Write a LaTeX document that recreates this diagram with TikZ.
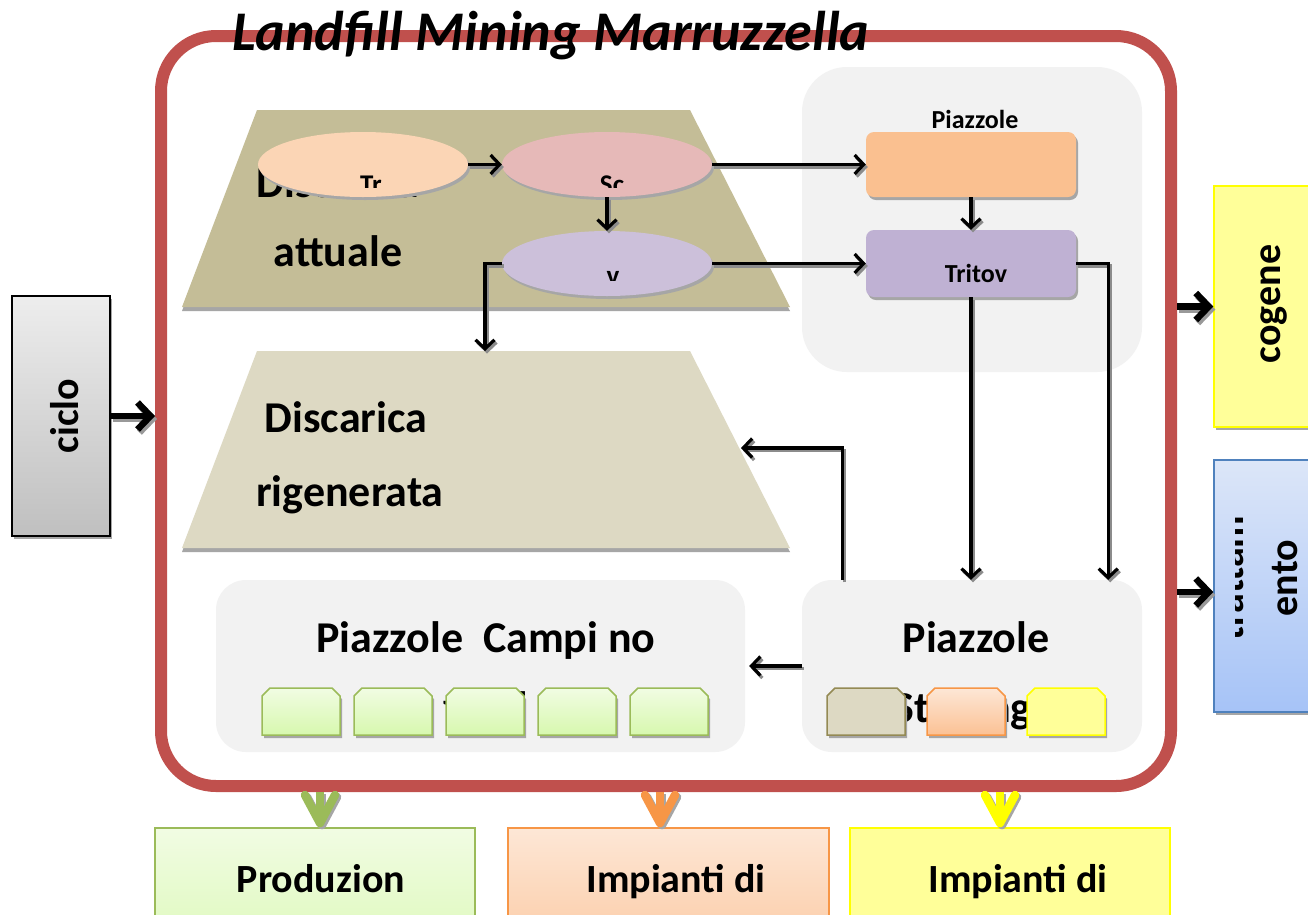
\documentclass[tikz,border=0pt]{standalone}
\usepackage{fontspec}
\setmainfont{Carlito}
\usetikzlibrary{arrows.meta,shapes.geometric,calc}
\definecolor{redframe}{HTML}{C0504D}
\definecolor{panelg}{HTML}{F2F2F2}
\definecolor{trapA}{HTML}{C4BD97}
\definecolor{trapB}{HTML}{DDD9C3}
\definecolor{ellTr}{HTML}{FBD5B5}
\definecolor{ellSc}{HTML}{E6B9B8}
\definecolor{ellV}{HTML}{CCC0DA}
\definecolor{oboxc}{HTML}{FAC090}
\definecolor{tritc}{HTML}{BFB1D3}
\definecolor{greenb}{HTML}{9BBB59}
\definecolor{greenT}{HTML}{F1FCE3}
\definecolor{greenB}{HTML}{D7F8AE}
\definecolor{orangeb}{HTML}{F79646}
\definecolor{orangeT}{HTML}{FDE7D6}
\definecolor{orangeB}{HTML}{FBC194}
\definecolor{yellowf}{HTML}{FFFF99}
\definecolor{yellowb}{HTML}{FFFF00}
\definecolor{khakib}{HTML}{948A54}
\definecolor{blueb}{HTML}{4F81BD}
\definecolor{blueT}{HTML}{DCE6F8}
\definecolor{blueB}{HTML}{A6C3F7}
\newcommand\snipbox[3]{\draw[#3] (#1,#2+47) -- (#1,#2+8) -- (#1+8,#2) -- (#1+70,#2) -- (#1+78,#2+8) -- (#1+78,#2+47) -- cycle;}
\begin{document}
\begin{tikzpicture}[x=1pt,y=-1pt,
  dropsh/.style={preaction={fill=black!35, transform canvas={shift={(2pt,-3pt)}}}},
  trapsh/.style={preaction={fill=black!35, transform canvas={shift={(0pt,-4pt)}}}},
  panel/.style={fill=panelg, inner sep=0},
  ell/.style={ellipse, inner sep=0, minimum width=210pt, minimum height=65pt, dropsh},
  rbox/.style={rounded corners=8pt, inner sep=0, minimum width=210pt, dropsh},
  arr/.style={line width=3.2pt, -{Straight Barb[length=9pt,width=19pt]},
    preaction={draw=black!45, line width=3.2pt, transform canvas={shift={(2pt,-2.5pt)}}}},
  bigarr/.style={line width=6.5pt, -{Straight Barb[length=13pt,width=27pt]},
    preaction={draw=black!40, line width=6.5pt, transform canvas={shift={(2pt,-3pt)}}}},
  carr/.style={draw=#1, line width=8.5pt, -{Straight Barb[length=28pt,width=30pt,round]},
    preaction={draw=black!35, line width=8.5pt, transform canvas={shift={(2pt,-2pt)}}}},
  big/.style={font=\bfseries\fontsize{44}{50}\selectfont, inner sep=0},
  mid/.style={font=\bfseries\fontsize{40}{46}\selectfont, inner sep=0},
  small/.style={font=\bfseries\fontsize{27}{30}\selectfont, inner sep=0},
  med/.style={font=\bfseries\fontsize{26}{30}\selectfont, inner sep=0}
]
\useasboundingbox (0,0) rectangle (1308,914);
\fill[white] (0,0) rectangle (1308,914);

% outer frame
\node[draw=redframe, line width=12pt, rounded corners=55pt, minimum width=1010pt, minimum height=750pt, inner sep=0] (frame) at (666,411) {};

% grey panels
\node[panel, rounded corners=45pt, minimum width=340pt, minimum height=305pt] (tpanel) at (972,219.5) {};
\node[panel, rounded corners=30pt, minimum width=529pt, minimum height=172pt] (campi) at (480.5,666) {};
\node[panel, rounded corners=30pt, minimum width=340pt, minimum height=172pt] (sto) at (972,666) {};

% trapezoids
\fill[trapA, trapsh] (257,110) -- (690,110) -- (790,307) -- (182,307) -- cycle;
\fill[trapB, trapsh] (257,351) -- (690,351) -- (790,548) -- (182,548) -- cycle;
\coordinate (t2top) at (485,351);
\coordinate (t2right) at (741,448);
\node[big, anchor=base] (da1) at (338,197) {Discarica};
\node[big, anchor=base] (da2) at (338,266) {attuale};
\node[big, anchor=base] (dr1) at (346,432) {Discarica};
\node[big, anchor=base] (dr2) at (350,506) {rigenerata};

% ellipses
\node[ell, fill=ellTr] (tr) at (363,164.5) {};
\node[ell, fill=ellSc] (sc) at (607,164.5) {};
\node[ell, fill=ellV] (v) at (607,263.5) {};
\begin{scope}
\clip (320,150) rectangle (420,187);
\node[small, anchor=base] (trt) at (371,193) {Tr};
\end{scope}
\begin{scope}
\clip (560,150) rectangle (660,187);
\node[small, anchor=base] (sct) at (612,193) {Sc};
\end{scope}
\begin{scope}
\clip (570,250) rectangle (660,280);
\node[small, anchor=base] (vt) at (613,284) {v};
\end{scope}

% right top boxes
\node[med, anchor=base] (pz1) at (975,128) {Piazzole};
\node[rbox, fill=oboxc, minimum height=65pt] (obox) at (971,164.5) {};
\node[rbox, fill=tritc, minimum height=67pt] (trit) at (971,263.5) {};
\node[med, anchor=base] (tritt) at (976,282) {Tritov};

% lower panel texts
\node[big, anchor=base] (cp1) at (486,652) {Piazzole\ \ Campi no};
\node[big, anchor=base] (cp2) at (486,722) {food};
\node[big, anchor=base] (sp1) at (976,652) {Piazzole};
\node[big, anchor=base west] (sp2) at (893,722) {Stoccaggio};

% small boxes
\foreach \xx in {262,354,446,538,630}{
  \snipbox{\xx}{688}{draw=greenb, line width=1.5pt, top color=greenT, bottom color=greenB, dropsh}
}
\snipbox{827}{688}{draw=khakib, line width=1.5pt, fill=trapB, dropsh}
\snipbox{927}{688}{draw=orangeb, line width=1.5pt, top color=orangeT, bottom color=orangeB, dropsh}
\snipbox{1027}{688}{draw=yellowb, line width=1.5pt, fill=yellowf, dropsh}

% outside boxes
\node[draw=black, line width=1.2pt, top color=black!7, bottom color=black!25, minimum width=98pt, minimum height=240pt, inner sep=0, dropsh] (ciclo) at (61,416) {};
\node[mid, rotate=90, anchor=base] (ciclot) at (78,416) {ciclo};
\node[draw=yellowb, line width=1.5pt, fill=yellowf, minimum width=126pt, minimum height=241pt, inner sep=0, dropsh] (cog) at (1277,306.5) {};
\node[mid, rotate=90, anchor=base] (cogt) at (1280,304) {cogene};
\node[draw=blueb, line width=1.5pt, top color=blueT, bottom color=blueB, minimum width=126pt, minimum height=252pt, inner sep=0, dropsh] (tratt) at (1277,586) {};
\begin{scope}
\clip (1235,462) rectangle (1340,710);
\node[mid, rotate=90, anchor=base] (tra1) at (1243,578) {trattam};
\node[mid, rotate=90, anchor=base] (tra2) at (1297,578) {ento};
\end{scope}

% bottom boxes
\node[draw=greenb, line width=1.5pt, top color=greenT, bottom color=greenB!80!greenT, minimum width=320pt, minimum height=132pt, inner sep=0] (prod) at (315,894) {};
\node[mid, anchor=base] (prodt) at (321,892) {Produzion};
\node[draw=orangeb, line width=1.5pt, top color=orangeT, bottom color=orangeB!80!orangeT, minimum width=321pt, minimum height=132pt, inner sep=0] (imp1) at (668.5,894) {};
\node[mid, anchor=base] (imp1t) at (676,892) {Impianti di};
\node[draw=yellowb, line width=1.5pt, fill=yellowf, minimum width=320pt, minimum height=132pt, inner sep=0] (imp2) at (1010,894) {};
\node[mid, anchor=base] (imp2t) at (1018,892) {Impianti di};

% title
\node[font=\bfseries\itshape\fontsize{56}{60}\selectfont, anchor=base west, inner sep=0] (title) at (232,50) {Landfill Mining Marruzzella};

% connectors
\draw[arr] (tr.east) -- (sc.west);
\draw[arr] (sc.south) -- (v.north);
\draw[arr] (sc.east) -- (obox.west);
\draw[arr] (v.east) -- (trit.west);
\draw[arr] (obox.south) -- (trit.north);
\draw[arr] (v.west) -| (t2top);
\draw[arr] (trit.south) -- (trit.south |- sto.north);
\draw[arr] (trit.east) -| ($(sto.north east)+(-34,0)$);
\draw[arr] ($(sto.north west)+(41,0)$) |- (t2right);
\draw[arr] (sto.west) -- ($(campi.east)+(4,0)$);

\draw[bigarr] (ciclo.east) -- (ciclo.east -| frame.west);
\draw[bigarr] (cog.west -| frame.east) -- (cog.west);
\draw[bigarr] ($(tratt.west -| frame.east)+(0,6)$) -- ($(tratt.west)+(0,6)$);

\coordinate (ga) at (320,792);
\coordinate (oa) at (660,792);
\coordinate (ya) at (1000,792);
\draw[carr=greenb] (ga) -- (ga |- prod.north);
\draw[carr=orangeb] (oa) -- (oa |- imp1.north);
\draw[carr=yellowb] (ya) -- (ya |- imp2.north);
\end{tikzpicture}
\end{document}
